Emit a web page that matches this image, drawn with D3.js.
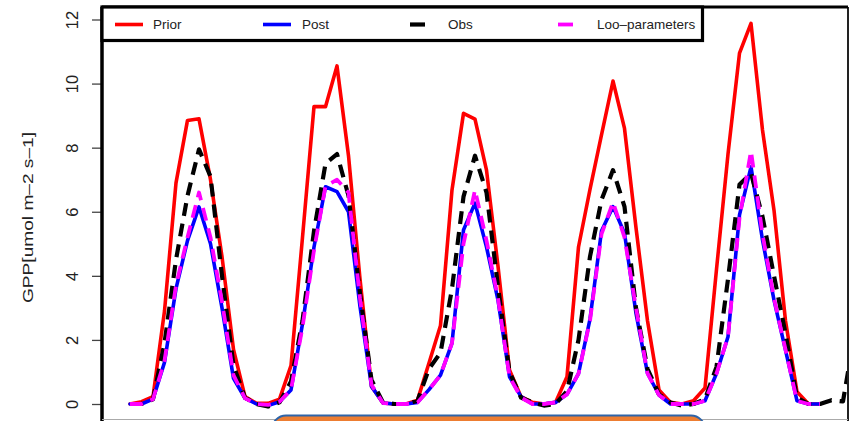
<!DOCTYPE html>
<html><head><meta charset="utf-8">
<script src="https://cdn.jsdelivr.net/npm/d3@7"></script>
<style>html,body{margin:0;padding:0;background:#fff;} svg{display:block;}</style>
</head><body><svg id="chart" width="855" height="421"></svg>
<script>
// ---- data (2-hourly steps, index 0..n) ----
const prior = [0.0, 0.07, 0.23, 2.9, 6.9, 8.85, 8.9, 7.0, 4.6, 1.7,
  0.23, 0.02, 0.02, 0.15, 1.2, 5.2, 9.28, 9.28, 10.55, 7.75,
  3.9, 0.55, 0.03, 0.0, 0.0, 0.12, 1.28, 2.45, 6.68, 9.07,
  8.89, 7.3, 4.3, 1.06, 0.23, 0.05, 0.0, 0.05, 0.85, 4.9,
  6.7, 8.4, 10.08, 8.6, 5.5, 2.6, 0.44, 0.05, 0.0, 0.1,
  0.5, 4.2, 7.8, 10.95, 11.88, 8.55, 6.05, 2.6, 0.38, 0.0,
  0.0];
const post = [0.0, 0.0, 0.15, 1.3, 3.6, 5.1, 6.15, 5.0, 3.0, 0.8,
  0.18, 0.0, -0.05, 0.07, 0.44, 2.5, 4.9, 6.78, 6.63, 6.0,
  3.04, 0.55, 0.03, 0.0, 0.0, 0.05, 0.45, 0.9, 1.9, 5.43,
  6.27, 4.9, 3.24, 0.85, 0.23, 0.0, 0.0, 0.05, 0.3, 0.95,
  2.65, 5.4, 6.16, 5.33, 2.83, 0.96, 0.28, 0.0, 0.0, 0.0,
  0.1, 0.95, 2.1, 5.9, 7.4, 5.12, 3.24, 1.68, 0.1, 0.0,
  0.0];
const obs = [0.0, 0.0, 0.15, 1.9, 4.5, 6.5, 7.95, 7.1, 4.0, 1.2,
  0.2, 0.0, -0.08, 0.05, 0.7, 2.6, 5.4, 7.5, 7.8, 6.5,
  3.46, 0.75, 0.05, 0.0, 0.0, 0.1, 1.1, 1.6, 3.6, 6.47,
  7.75, 6.6, 3.66, 1.0, 0.2, 0.05, -0.05, 0.0, 0.4, 2.0,
  4.6, 6.37, 7.3, 6.16, 3.0, 1.1, 0.3, 0.05, -0.05, 0.0,
  0.15, 1.16, 3.9, 6.85, 7.2, 5.85, 4.0, 2.2, 0.2, 0.0,
  0.0, 0.12, 0.08, 2.2];
const loo = [0.0, 0.0, 0.15, 1.35, 3.7, 5.2, 6.6, 5.2, 3.2, 0.9,
  0.18, 0.0, -0.03, 0.07, 0.45, 2.4, 4.8, 6.8, 7.0, 6.6,
  3.3, 0.6, 0.03, 0.0, 0.0, 0.05, 0.45, 0.9, 1.9, 5.0,
  6.68, 5.1, 3.3, 0.85, 0.2, 0.0, 0.0, 0.05, 0.3, 0.95,
  2.6, 5.3, 6.3, 5.2, 3.0, 0.96, 0.28, 0.0, 0.0, 0.0,
  0.1, 0.95, 2.1, 5.8, 7.9, 5.3, 3.3, 1.7, 0.1, 0.0,
  0.0];
const yTicks = [0, 2, 4, 6, 8, 10, 12];
const seriesNames = ["Prior", "Post", "Obs", "Loo\u2013parameters"];
const seriesColors = ["#ff0000", "#0000ff", "#000000", "#ff00ff"];
const yLabel = "GPP[umol m\u20132 s\u20131]";

// ---- drawing ----
const W = 855, H = 421;
const svg = d3.select("#chart");
const plot = {left: 102, right: 848, top: 7, bottom: 419.5};
const x = d3.scaleLinear().domain([0, 61]).range([130, 831.5]);
const y = d3.scaleLinear().domain([0, 12]).range([404, 19.5]);

svg.append("rect").attr("width", W).attr("height", H).attr("fill", "#fff");

svg.append("defs").append("clipPath").attr("id", "clip")
  .append("rect").attr("x", plot.left).attr("y", plot.top)
  .attr("width", plot.right - plot.left).attr("height", plot.bottom - plot.top);

const font = "'Liberation Sans', Arial, Helvetica, sans-serif";

// y axis
const yAxis = d3.axisLeft(y).tickValues(yTicks).tickSize(10).tickFormat(d3.format("d"));
const ga = svg.append("g").attr("transform", `translate(${plot.left},0)`).call(yAxis);
ga.select(".domain").remove();
ga.selectAll(".tick line").attr("stroke", "#444").attr("stroke-width", 1.3);
ga.selectAll(".tick text")
  .attr("x", null).attr("dy", null)
  .attr("transform", "translate(-24,0) rotate(-90)")
  .attr("text-anchor", "middle")
  .attr("font-family", font).attr("font-size", 16.5).attr("fill", "#222");

// y label
svg.append("text")
  .attr("transform", "translate(33,217.5) rotate(-90)")
  .attr("text-anchor", "middle")
  .attr("font-family", font).attr("font-size", 15).attr("fill", "#222")
  .attr("textLength", 171).attr("lengthAdjust", "spacingAndGlyphs")
  .text(yLabel);

// lines
const line = d3.line().x((d, i) => x(i)).y(d => y(d));
const gl = svg.append("g").attr("clip-path", "url(#clip)");
const allSeries = [prior, post, obs, loo];
const dashes = [null, null, "13,8", "13,8"];
const widths = [3.6, 3.6, 4.2, 3.8];
allSeries.forEach((s, k) => {
  gl.append("path").datum(s)
    .attr("d", line)
    .attr("fill", "none")
    .attr("stroke", seriesColors[k])
    .attr("stroke-width", widths[k])
    .attr("stroke-linejoin", "round")
    .attr("stroke-linecap", dashes[k] ? "butt" : "round")
    .attr("stroke-dasharray", dashes[k]);
});

// box
svg.append("line").attr("x1", plot.left).attr("x2", plot.left).attr("y1", plot.top).attr("y2", H)
  .attr("stroke", "#000").attr("stroke-width", 3.5);
svg.append("line").attr("x1", plot.right).attr("x2", plot.right).attr("y1", plot.top).attr("y2", H)
  .attr("stroke", "#222").attr("stroke-width", 2);
svg.append("line").attr("x1", plot.left).attr("x2", plot.right).attr("y1", plot.bottom).attr("y2", plot.bottom)
  .attr("stroke", "#aaa").attr("stroke-width", 1);
svg.append("line").attr("x1", plot.left).attr("x2", plot.right).attr("y1", plot.top).attr("y2", plot.top)
  .attr("stroke", "#000").attr("stroke-width", 3);

// legend
const lg = svg.append("g");
lg.append("rect").attr("x", 102).attr("y", 7).attr("width", 600.5).attr("height", 33.5)
  .attr("fill", "#fff").attr("stroke", "#000").attr("stroke-width", 3.2);
const legX = [115, 263, 410, 558];
const legTextX = [153, 302, 448, 597];
seriesNames.forEach((n, k) => {
  lg.append("line").attr("x1", legX[k]).attr("x2", legX[k] + (dashes[k] ? 15 : 28))
    .attr("y1", 24.5).attr("y2", 24.5)
    .attr("stroke", seriesColors[k]).attr("stroke-width", widths[k]);
  lg.append("text").attr("x", legTextX[k]).attr("y", 29.3)
    .attr("font-family", font).attr("font-size", 13.5).attr("fill", "#222")
    .text(n);
});

// overlapping shape at bottom edge
svg.append("rect").attr("x", 272).attr("y", 415.5).attr("width", 433).attr("height", 30).attr("rx", 14)
  .attr("fill", "#ed7d31").attr("stroke", "#2e64a8").attr("stroke-width", 2);
</script></body></html>
